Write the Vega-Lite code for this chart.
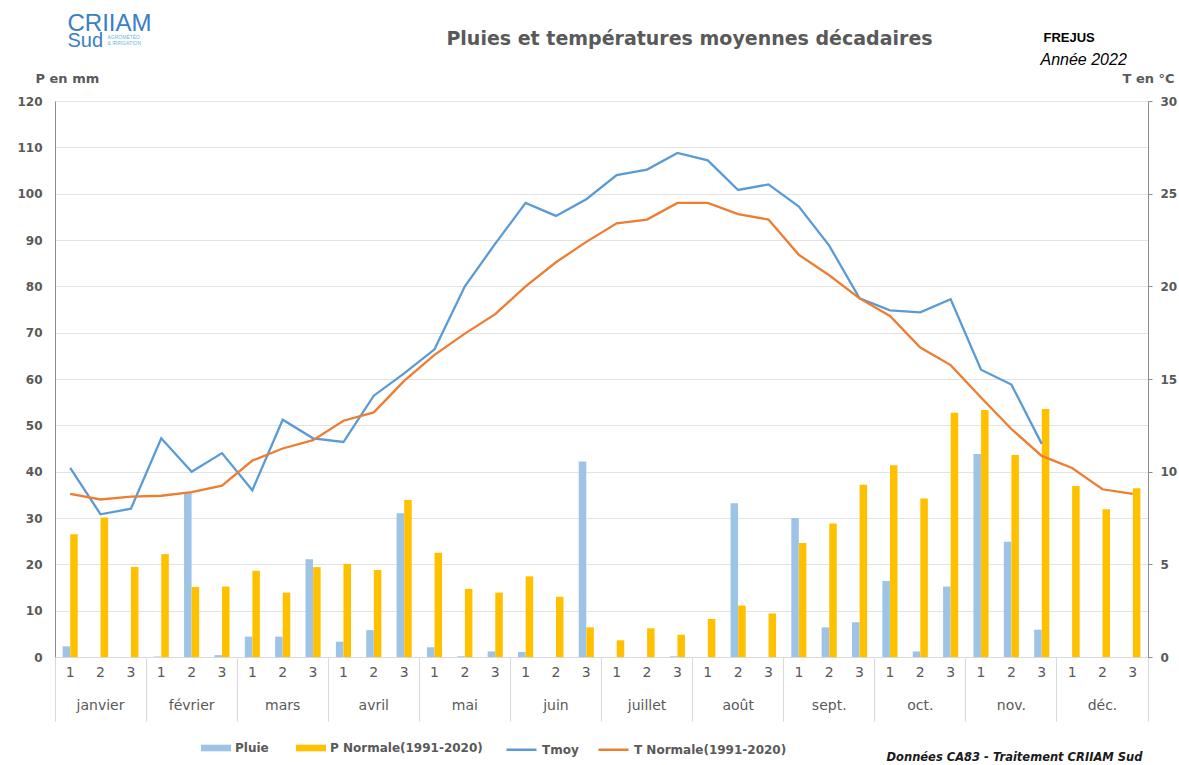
{
  "$schema": "https://vega.github.io/schema/vega-lite/v6.json",
  "width": 1093,
  "height": 556,
  "autosize": {"type": "none"},
  "padding": {"left": 55, "top": 101, "right": 31, "bottom": 108},
  "background": "white",
  "title": {
    "text": "Pluies et températures moyennes décadaires",
    "anchor": "middle",
    "frame": "group",
    "dx": 88,
    "dy": 53,
    "offset": 0,
    "baseline": "alphabetic",
    "font": "DejaVu Sans",
    "fontSize": 19,
    "fontWeight": "bold",
    "color": "#595959"
  },
  "data": {
    "values": [
      {"key": "janvier 1", "pluie": 2.3, "pn": 26.5, "tmoy": 10.2, "tn": 8.8},
      {"key": "janvier 2", "pluie": 0, "pn": 30.1, "tmoy": 7.7, "tn": 8.5},
      {"key": "janvier 3", "pluie": 0, "pn": 19.4, "tmoy": 8.0, "tn": 8.65},
      {"key": "février 1", "pluie": 0.1, "pn": 22.2, "tmoy": 11.8, "tn": 8.7},
      {"key": "février 2", "pluie": 35.4, "pn": 15.1, "tmoy": 10.0, "tn": 8.9},
      {"key": "février 3", "pluie": 0.4, "pn": 15.2, "tmoy": 11.0, "tn": 9.25},
      {"key": "mars 1", "pluie": 4.4, "pn": 18.6, "tmoy": 9.0, "tn": 10.6},
      {"key": "mars 2", "pluie": 4.4, "pn": 13.9, "tmoy": 12.8, "tn": 11.25},
      {"key": "mars 3", "pluie": 21.1, "pn": 19.4, "tmoy": 11.8, "tn": 11.7},
      {"key": "avril 1", "pluie": 3.3, "pn": 20.1, "tmoy": 11.6, "tn": 12.75},
      {"key": "avril 2", "pluie": 5.8, "pn": 18.8, "tmoy": 14.1, "tn": 13.2},
      {"key": "avril 3", "pluie": 31.0, "pn": 33.9, "tmoy": 15.3, "tn": 14.9},
      {"key": "mai 1", "pluie": 2.1, "pn": 22.5, "tmoy": 16.6, "tn": 16.3},
      {"key": "mai 2", "pluie": 0.15, "pn": 14.7, "tmoy": 20.0, "tn": 17.45},
      {"key": "mai 3", "pluie": 1.2, "pn": 13.9, "tmoy": 22.3, "tn": 18.5},
      {"key": "juin 1", "pluie": 1.1, "pn": 17.4, "tmoy": 24.5, "tn": 20.0},
      {"key": "juin 2", "pluie": 0, "pn": 13.0, "tmoy": 23.8, "tn": 21.3},
      {"key": "juin 3", "pluie": 42.2, "pn": 6.4, "tmoy": 24.7, "tn": 22.4},
      {"key": "juillet 1", "pluie": 0, "pn": 3.6, "tmoy": 26.0, "tn": 23.4},
      {"key": "juillet 2", "pluie": 0, "pn": 6.2, "tmoy": 26.3, "tn": 23.6},
      {"key": "juillet 3", "pluie": 0.15, "pn": 4.8, "tmoy": 27.2, "tn": 24.5},
      {"key": "août 1", "pluie": 0, "pn": 8.2, "tmoy": 26.8, "tn": 24.5},
      {"key": "août 2", "pluie": 33.2, "pn": 11.1, "tmoy": 25.2, "tn": 23.9},
      {"key": "août 3", "pluie": 0, "pn": 9.4, "tmoy": 25.5, "tn": 23.6},
      {"key": "sept. 1", "pluie": 30.0, "pn": 24.6, "tmoy": 24.3, "tn": 21.7},
      {"key": "sept. 2", "pluie": 6.4, "pn": 28.8, "tmoy": 22.2, "tn": 20.6},
      {"key": "sept. 3", "pluie": 7.5, "pn": 37.2, "tmoy": 19.35, "tn": 19.35},
      {"key": "oct. 1", "pluie": 16.4, "pn": 41.4, "tmoy": 18.7, "tn": 18.4},
      {"key": "oct. 2", "pluie": 1.2, "pn": 34.2, "tmoy": 18.6, "tn": 16.7},
      {"key": "oct. 3", "pluie": 15.2, "pn": 52.7, "tmoy": 19.3, "tn": 15.75},
      {"key": "nov. 1", "pluie": 43.8, "pn": 53.3, "tmoy": 15.5, "tn": 14.0},
      {"key": "nov. 2", "pluie": 24.9, "pn": 43.6, "tmoy": 14.7, "tn": 12.3},
      {"key": "nov. 3", "pluie": 5.9, "pn": 53.5, "tmoy": 11.5, "tn": 10.85},
      {"key": "déc. 1", "pluie": 0, "pn": 36.9, "tmoy": null, "tn": 10.2},
      {"key": "déc. 2", "pluie": 0, "pn": 31.9, "tmoy": null, "tn": 9.05},
      {"key": "déc. 3", "pluie": 0, "pn": 36.4, "tmoy": null, "tn": 8.8}
    ]
  },
  "layer": [
    {
      "mark": {"type": "bar", "width": 7.5, "xOffset": -3.8},
      "encoding": {
        "x": {
          "field": "key", "type": "ordinal", "sort": null,
          "scale": {"type": "band", "paddingInner": 0, "paddingOuter": 0},
          "axis": {
            "orient": "bottom",
            "labelExpr": "slice(datum.label, -1)",
            "labelAngle": 0, "ticks": false, "grid": false,
            "domain": true, "domainColor": "#D9D9D9",
            "labelPadding": 8, "labelFont": "DejaVu Sans", "labelFontSize": 14, "labelColor": "#595959",
            "title": "FREJUS", "titleX": 988, "titleY": -616, "titleAlign": "left", "titleBaseline": "alphabetic",
            "titleFont": "Liberation Sans", "titleFontSize": 13, "titleFontWeight": "bold", "titleColor": "#000000"
          }
        },
        "y": {
          "field": "pluie", "type": "quantitative",
          "scale": {"domain": [0, 120]},
          "axis": {
            "orient": "left", "values": [0, 10, 20, 30, 40, 50, 60, 70, 80, 90, 100, 110, 120],
            "grid": true, "gridColor": "#E3E3E3", "ticks": false,
            "domain": true, "domainColor": "#8C8C8C",
            "labelFont": "DejaVu Sans", "labelFontSize": 12, "labelFontWeight": "bold", "labelColor": "#595959", "labelPadding": 13,
            "title": "P en mm", "titleAngle": 0, "titleX": -20, "titleY": -19, "titleAlign": "left", "titleBaseline": "alphabetic",
            "titleFont": "DejaVu Sans", "titleFontSize": 13, "titleFontWeight": "bold", "titleColor": "#595959"
          }
        },
        "fill": {
          "datum": "Pluie", "type": "nominal",
          "scale": {"domain": ["Pluie", "P Normale(1991-2020)"], "range": ["#9DC3E6", "#FFC000"]},
          "legend": {
            "orient": "none", "legendX": 146, "legendY": 632, "direction": "horizontal", "title": null,
            "symbolType": "M-1,-0.22H1V0.22H-1Z", "symbolSize": 900, "symbolStrokeWidth": 0,
            "labelFont": "DejaVu Sans", "labelFontSize": 12, "labelFontWeight": "bold", "labelColor": "#595959",
            "labelOffset": 4, "columnPadding": 27
          }
        }
      }
    },
    {
      "mark": {"type": "bar", "width": 7.5, "xOffset": 3.8},
      "encoding": {
        "x": {
          "field": "key", "type": "ordinal", "sort": null,
          "scale": {"type": "band", "paddingInner": 0, "paddingOuter": 0},
          "axis": {
            "orient": "bottom",
            "values": ["janvier 2", "février 2", "mars 2", "avril 2", "mai 2", "juin 2", "juillet 2", "août 2", "sept. 2", "oct. 2", "nov. 2", "déc. 2"],
            "labelExpr": "slice(datum.label, 0, -2)",
            "labelAngle": 0, "ticks": false, "grid": false, "domain": false,
            "labelPadding": 41, "labelFont": "DejaVu Sans", "labelFontSize": 14, "labelColor": "#595959",
            "title": "Année 2022", "titleX": 985, "titleY": -593, "titleAlign": "left", "titleBaseline": "alphabetic",
            "titleFont": "Liberation Sans", "titleFontSize": 16, "titleFontStyle": "italic", "titleFontWeight": "normal", "titleColor": "#000000"
          }
        },
        "y": {
          "field": "pn", "type": "quantitative",
          "scale": {"domain": [0, 120]},
          "axis": {
            "orient": "left", "labels": false, "ticks": false, "domain": false, "grid": false,
            "title": "CRIIAM", "titleAngle": 0, "titleX": 12, "titleY": -71, "titleAlign": "left", "titleBaseline": "alphabetic",
            "titleFont": "Liberation Sans", "titleFontSize": 24, "titleFontWeight": "normal", "titleColor": "#3A7EC6"
          }
        },
        "fill": {"datum": "P Normale(1991-2020)", "type": "nominal"}
      }
    },
    {
      "mark": {"type": "line", "strokeWidth": 2.3},
      "encoding": {
        "x": {
          "field": "key", "type": "ordinal", "sort": null,
          "scale": {"type": "band", "paddingInner": 0, "paddingOuter": 0},
          "axis": {
            "orient": "bottom",
            "values": ["janvier 1", "février 1", "mars 1", "avril 1", "mai 1", "juin 1", "juillet 1", "août 1", "sept. 1", "oct. 1", "nov. 1", "déc. 1"],
            "bandPosition": 0, "labels": false, "ticks": true, "tickSize": 64, "tickColor": "#D9D9D9", "tickWidth": 1,
            "domain": false, "grid": false,
            "title": "Données CA83 - Traitement CRIIAM Sud", "titleX": 831, "titleY": 103, "titleAlign": "left", "titleBaseline": "alphabetic",
            "titleFont": "DejaVu Sans", "titleFontSize": 11.5, "titleFontStyle": "italic", "titleFontWeight": "bold", "titleColor": "#1A1A1A"
          }
        },
        "y": {
          "field": "tmoy", "type": "quantitative",
          "scale": {"domain": [0, 30]},
          "axis": {
            "orient": "right", "values": [0, 5, 10, 15, 20, 25, 30],
            "grid": false, "ticks": true, "tickSize": 4, "tickColor": "#8C8C8C",
            "domain": true, "domainColor": "#8C8C8C",
            "labelFont": "DejaVu Sans", "labelFontSize": 12, "labelFontWeight": "bold", "labelColor": "#595959", "labelPadding": 8,
            "title": "T en °C", "titleAngle": 0, "titleX": -26, "titleY": -19, "titleAlign": "left", "titleBaseline": "alphabetic",
            "titleFont": "DejaVu Sans", "titleFontSize": 13, "titleFontWeight": "bold", "titleColor": "#595959"
          }
        },
        "stroke": {
          "datum": "Tmoy", "type": "nominal",
          "scale": {"domain": ["Tmoy", "T Normale(1991-2020)"], "range": ["#5B9BD5", "#ED7D31"]},
          "legend": {
            "orient": "none", "legendX": 450, "legendY": 632, "direction": "horizontal", "title": null,
            "symbolType": "stroke", "symbolSize": 900, "symbolStrokeWidth": 2.5,
            "labelFont": "DejaVu Sans", "labelFontSize": 12, "labelFontWeight": "bold", "labelColor": "#595959",
            "labelOffset": 4, "columnPadding": 14
          }
        }
      }
    },
    {
      "mark": {"type": "line", "strokeWidth": 2.3},
      "encoding": {
        "x": {
          "field": "key", "type": "ordinal", "sort": null,
          "scale": {"type": "band", "paddingInner": 0, "paddingOuter": 0},
          "axis": {
            "orient": "bottom",
            "values": ["déc. 3"],
            "bandPosition": 1, "labels": false, "ticks": true, "tickSize": 64, "tickColor": "#D9D9D9", "tickWidth": 1,
            "domain": false, "grid": false,
            "title": ["AGROMÉTÉO", "& IRRIGATION"], "titleX": 52, "titleY": -619, "titleAlign": "left", "titleBaseline": "alphabetic",
            "titleFont": "Liberation Sans", "titleFontSize": 5, "titleLineHeight": 6, "titleFontWeight": "normal", "titleColor": "#6FB5DA"
          }
        },
        "y": {
          "field": "tn", "type": "quantitative",
          "scale": {"domain": [0, 30]},
          "axis": {
            "orient": "right", "labels": false, "ticks": false, "domain": false, "grid": false,
            "title": "Sud", "titleAngle": 0, "titleX": -1081, "titleY": -55, "titleAlign": "left", "titleBaseline": "alphabetic",
            "titleFont": "Liberation Sans", "titleFontSize": 20, "titleFontWeight": "normal", "titleColor": "#3A7EC6"
          }
        },
        "stroke": {"datum": "T Normale(1991-2020)", "type": "nominal"}
      }
    }
  ],
  "resolve": {
    "scale": {"y": "independent"},
    "axis": {"x": "independent", "y": "independent"}
  },
  "config": {
    "font": "DejaVu Sans",
    "view": {"stroke": null}
  }
}
